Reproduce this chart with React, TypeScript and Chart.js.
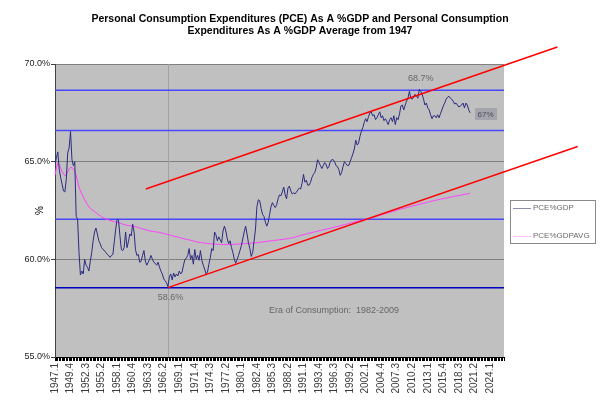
import { useEffect, useRef } from 'react';
import { Chart, registerables } from 'chart.js';
import type { Plugin } from 'chart.js';

Chart.register(...registerables);

// quarterly axis, 1947.1 .. 2026.3, labelled every 11 quarters
const FIRST_YEAR = 1947;
const AXIS_QUARTERS = 319;
const LABEL_EVERY = 11;
const quarterLabels = Array.from(
  { length: AXIS_QUARTERS },
  (_, i) => `${FIRST_YEAR + Math.floor(i / 4)}.${(i % 4) + 1}`
);

const Y_MIN = 55;
const Y_MAX = 70;
const Y_STEP = 5;

const titleLines = [
  'Personal Consumption Expenditures (PCE) As A %GDP and Personal Consumption',
  'Expenditures As A %GDP Average from 1947',
];

const seriesNames = ['PCE%GDP', 'PCE%GDPAVG'];

// PCE as % of GDP, one value per quarter from 1947.1
const pceGdp = [
  64.9, 65.2, 65.5, 64.6, 64.2, 63.85, 63.5, 63.45, 64.1, 65.45,
  65.7, 66.55, 65.1, 64.8, 65.0, 62.2, 62.05, 60.35, 59.2, 59.4,
  59.25, 60.0, 59.7, 59.6, 59.4, 59.9, 60.35, 60.95, 61.4, 61.6,
  61.3, 60.95, 60.8, 60.6, 60.5, 60.45, 60.35, 60.25, 60.2, 60.1,
  60.2, 60.25, 60.9, 61.55, 62.05, 62.0, 61.2, 60.5, 60.45, 60.6,
  61.4, 60.6, 60.9, 61.3, 61.2, 61.8, 61.4, 60.5, 60.2, 60.25,
  59.85, 59.9, 60.2, 60.45, 59.9, 59.7, 59.85, 60.0, 60.2, 60.0,
  59.85, 59.8, 59.7, 59.85, 59.6, 59.4, 59.25, 59.0, 58.9, 58.8,
  58.6, 59.1, 59.25, 58.95, 59.3, 59.1, 59.25, 59.15, 59.4, 59.25,
  59.35, 59.7, 60.0, 60.05, 60.2, 60.55, 60.0, 60.2, 59.75, 60.5,
  60.0, 60.2, 59.95, 60.45, 59.95, 59.7, 59.5, 59.25, 59.35, 59.75,
  60.1, 60.55, 60.45, 61.4, 61.25, 60.95, 61.15, 61.0, 60.85, 61.45,
  61.7, 61.45, 61.05, 60.8, 60.95, 60.6, 60.35, 60.0, 59.8, 60.0,
  60.2, 60.45, 60.7, 61.05, 61.4, 61.7, 61.3, 60.85, 60.55, 60.15,
  60.35, 60.95, 61.55, 62.7, 63.05, 63.0, 62.6, 62.3, 62.2, 61.9,
  61.7, 61.9, 62.3, 62.7, 62.9, 62.75, 62.65, 62.8, 63.1, 63.3,
  63.25, 63.45, 63.7, 63.3, 63.1, 63.65, 63.75, 63.5, 63.35, 63.4,
  63.35, 63.45, 63.55, 63.65, 63.6, 63.9, 64.35, 63.95, 64.05, 63.8,
  63.8, 63.95, 64.2, 64.35, 64.45, 64.7, 65.1, 64.95, 64.8, 64.65,
  64.8, 64.95, 64.85, 64.65, 64.75, 65.0, 65.1, 65.1, 65.0, 64.8,
  64.75, 64.6, 64.3, 64.45, 64.75, 65.0, 64.9, 64.8, 64.8, 65.0,
  65.2, 65.4, 65.65, 66.1, 65.85, 65.95, 66.3, 66.55, 66.75, 67.0,
  67.2, 67.05, 67.3, 67.5, 67.55, 67.35, 67.4, 67.15, 67.25, 67.4,
  67.55, 67.25, 67.35, 67.1, 67.2, 67.05, 66.9, 67.15, 67.25, 67.05,
  67.35, 66.9, 67.25, 67.15, 67.45, 67.85, 67.9, 67.65, 67.9, 68.1,
  68.25, 68.6, 68.25, 68.2, 68.3, 68.45, 68.35, 68.25, 68.7, 68.6,
  68.45, 68.2, 67.9, 68.0, 67.75, 67.65, 67.4, 67.2, 67.35, 67.35,
  67.25, 67.4, 67.25, 67.45, 67.65, 67.85, 68.0, 68.2, 68.3, 68.35,
  68.25, 68.2, 68.1, 67.95, 68.0, 67.9, 67.8, 67.85, 67.9, 68.0,
  67.75, 68.0, 67.9, 67.65, 67.5,
];

// average since 1947
const pceGdpAvg = [
  64.3, 64.7, 64.95, 64.85, 64.65, 64.5, 64.38, 64.28, 64.32, 64.48,
  64.62, 64.7, 64.7, 64.62, 64.52, 64.3, 64.0, 63.7, 63.5, 63.35,
  63.2, 63.05, 62.92, 62.8, 62.68, 62.6, 62.54, 62.49, 62.45, 62.4,
  62.33, 62.28, 62.23, 62.18, 62.14, 62.1, 62.07, 62.05, 62.02, 61.99,
  61.97, 61.95, 61.93, 61.91, 61.89, 61.87, 61.85, 61.83, 61.8, 61.78,
  61.76, 61.74, 61.73, 61.72, 61.71, 61.7, 61.69, 61.67, 61.65, 61.62,
  61.6, 61.58, 61.56, 61.54, 61.52, 61.5, 61.48, 61.46, 61.44, 61.43,
  61.42, 61.41, 61.4, 61.39, 61.38, 61.36, 61.34, 61.32, 61.3, 61.29,
  61.27, 61.25, 61.23, 61.21, 61.19, 61.17, 61.15, 61.14, 61.12, 61.1,
  61.08, 61.06, 61.04, 61.03, 61.01, 61.0, 60.98, 60.96, 60.94, 60.92,
  60.9, 60.89, 60.87, 60.86, 60.85, 60.84, 60.83, 60.82, 60.81, 60.8,
  60.8, 60.79, 60.79, 60.78, 60.78, 60.77, 60.77, 60.77, 60.76, 60.76,
  60.76, 60.76, 60.76, 60.76, 60.76, 60.76, 60.77, 60.77, 60.77, 60.78,
  60.78, 60.79, 60.79, 60.8, 60.8, 60.81, 60.81, 60.82, 60.82, 60.83,
  60.83, 60.84, 60.85, 60.85, 60.86, 60.87, 60.88, 60.89, 60.9, 60.91,
  60.92, 60.93, 60.94, 60.95, 60.95, 60.96, 60.97, 60.98, 60.99, 61.0,
  61.01, 61.02, 61.03, 61.04, 61.05, 61.06, 61.07, 61.09, 61.1, 61.12,
  61.14, 61.16, 61.18, 61.2, 61.22, 61.24, 61.26, 61.28, 61.3, 61.32,
  61.34, 61.35, 61.37, 61.39, 61.41, 61.42, 61.44, 61.46, 61.48, 61.49,
  61.51, 61.53, 61.54, 61.56, 61.58, 61.59, 61.61, 61.63, 61.65, 61.66,
  61.68, 61.7, 61.72, 61.74, 61.76, 61.78, 61.79, 61.81, 61.83, 61.85,
  61.87, 61.89, 61.91, 61.93, 61.95, 61.96, 61.98, 62.0, 62.02, 62.04,
  62.05, 62.07, 62.09, 62.11, 62.13, 62.15, 62.17, 62.19, 62.21, 62.23,
  62.25, 62.27, 62.3, 62.32, 62.34, 62.36, 62.38, 62.41, 62.43, 62.45,
  62.47, 62.49, 62.52, 62.54, 62.56, 62.58, 62.6, 62.61, 62.63, 62.65,
  62.67, 62.69, 62.71, 62.73, 62.75, 62.76, 62.78, 62.8, 62.82, 62.84,
  62.86, 62.87, 62.89, 62.91, 62.93, 62.95, 62.96, 62.98, 63.0, 63.02,
  63.03, 63.05, 63.06, 63.08, 63.09, 63.11, 63.12, 63.14, 63.15, 63.17,
  63.18, 63.2, 63.21, 63.23, 63.24, 63.25, 63.27, 63.28, 63.3, 63.31,
  63.33, 63.34, 63.35, 63.37, 63.38,
];

// horizontal reference levels (%)
const blueLevels = [68.65, 66.6, 62.05];
const lowLevel = 58.55;
const lowQuarter = 80; // 1967.1

// trend channel ends as [quarter index, %]
const upperTrend = [[64.3, 63.6], [355.8, 70.87]];
const lowerTrend = [[80, 58.55], [370.2, 65.78]];

// text notes as [text, quarter index, %]
const notes: [string, number, number][] = [
  ['68.7%', 259, 69.26],
  ['58.6%', 81.8, 58.03],
  ['Era of Consumption:  1982-2009', 197.6, 57.37],
];
const lastNote: [string, number, number] = ['67%', 304.9, 67.44];

const NAVY = '#2b2b80';
const PINK = '#ff3cff';

const overlay: Plugin<'line'> = {
  id: 'overlay',
  beforeDraw(chart) {
    const { ctx, chartArea: a } = chart;
    ctx.save();
    ctx.fillStyle = '#ffffff';
    ctx.fillRect(0, 0, chart.width, chart.height);
    ctx.fillStyle = '#c0c0c0';
    ctx.fillRect(a.left, a.top, a.right - a.left, a.bottom - a.top);
    ctx.restore();
  },
  beforeDatasetsDraw(chart) {
    const { ctx, chartArea: a } = chart;
    const x = chart.scales.x;
    const y = chart.scales.y;
    ctx.save();
    const vx = Math.round(x.getPixelForValue(lowQuarter)) + 0.5;
    ctx.strokeStyle = '#a2a2a2';
    ctx.lineWidth = 1;
    ctx.beginPath();
    ctx.moveTo(vx, a.top);
    ctx.lineTo(vx, a.bottom);
    ctx.stroke();

    ctx.lineWidth = 1.5;
    ctx.strokeStyle = '#4848ff';
    blueLevels.forEach((v) => {
      const py = y.getPixelForValue(v);
      ctx.beginPath();
      ctx.moveTo(a.left, py);
      ctx.lineTo(a.right, py);
      ctx.stroke();
    });
    ctx.strokeStyle = '#0000c0';
    const ly = y.getPixelForValue(lowLevel);
    ctx.beginPath();
    ctx.moveTo(a.left, ly);
    ctx.lineTo(a.right, ly);
    ctx.stroke();
    ctx.restore();
  },
  afterDatasetsDraw(chart) {
    const { ctx } = chart;
    const x = chart.scales.x;
    const y = chart.scales.y;
    ctx.save();
    ctx.strokeStyle = '#ff0000';
    ctx.lineWidth = 1.5;
    [upperTrend, lowerTrend].forEach((seg) => {
      ctx.beginPath();
      ctx.moveTo(x.getPixelForValue(seg[0][0]), y.getPixelForValue(seg[0][1]));
      ctx.lineTo(x.getPixelForValue(seg[1][0]), y.getPixelForValue(seg[1][1]));
      ctx.stroke();
    });
    ctx.restore();
  },
  afterDraw(chart) {
    const { ctx, chartArea: a } = chart;
    const x = chart.scales.x;
    const y = chart.scales.y;
    ctx.save();
    ctx.textAlign = 'center';
    ctx.textBaseline = 'middle';
    ctx.font = '9px "Liberation Sans", Arial, sans-serif';
    ctx.fillStyle = '#666666';
    notes.forEach(([t, q, v]) => {
      ctx.fillText(t, x.getPixelForValue(q), y.getPixelForValue(v));
    });

    // boxed note at the end of the series
    const bx = x.getPixelForValue(lastNote[1]);
    const by = y.getPixelForValue(lastNote[2]);
    ctx.fillStyle = '#a4a4ac';
    ctx.fillRect(Math.round(bx - 11), Math.round(by - 6), 22, 12);
    ctx.font = '8px "Liberation Sans", Arial, sans-serif';
    ctx.fillStyle = '#4a4a5a';
    ctx.fillText(lastNote[0], bx, by + 0.5);

    // legend
    const lx = Math.round(a.right) + 6;
    const lt = 200;
    ctx.fillStyle = '#ffffff';
    ctx.fillRect(lx, lt, 85, 43);
    ctx.strokeStyle = '#8a8a8a';
    ctx.lineWidth = 1;
    ctx.strokeRect(lx + 0.5, lt + 0.5, 85, 43);
    ctx.textAlign = 'left';
    chart.data.datasets.forEach((ds, i) => {
      const iy = lt + 8 + i * 28;
      ctx.strokeStyle = i === 0 ? '#8c8cae' : '#ffc4ff';
      ctx.beginPath();
      ctx.moveTo(lx + 3, iy + 0.5);
      ctx.lineTo(lx + 21, iy + 0.5);
      ctx.stroke();
      ctx.fillStyle = '#6a6a6a';
      ctx.fillText(String(ds.label), lx + 23, iy);
    });
    ctx.restore();
  },
};

export default function App() {
  const canvasRef = useRef<HTMLCanvasElement>(null);
  const chartRef = useRef<Chart | null>(null);

  useEffect(() => {
    document.body.style.margin = '0';
    if (!canvasRef.current) return;
    if (chartRef.current) chartRef.current.destroy();

    Chart.defaults.font.family = '"Liberation Sans", Arial, sans-serif';

    chartRef.current = new Chart(canvasRef.current, {
      type: 'line',
      data: {
        labels: quarterLabels,
        datasets: [
          {
            label: seriesNames[0],
            data: pceGdp,
            borderColor: NAVY,
            borderWidth: 1,
            pointRadius: 0,
            tension: 0,
          },
          {
            label: seriesNames[1],
            data: pceGdpAvg,
            borderColor: PINK,
            borderWidth: 1,
            pointRadius: 0,
            tension: 0,
          },
        ],
      },
      options: {
        animation: false,
        responsive: true,
        maintainAspectRatio: false,
        events: [],
        layout: { padding: 0 },
        plugins: {
          legend: { display: false },
          tooltip: { enabled: false },
          title: {
            display: true,
            text: titleLines,
            color: '#000',
            font: { size: 10.5, weight: 'bold', lineHeight: '12px' },
            padding: { top: 12.75, bottom: 27.25 },
          },
        },
        scales: {
          x: {
            type: 'category',
            offset: false,
            grid: {
              display: true,
              drawOnChartArea: false,
              offset: false,
              tickLength: 4,
              tickColor: '#000',
            },
            border: { color: '#000' },
            ticks: {
              autoSkip: false,
              minRotation: 90,
              maxRotation: 90,
              padding: 2,
              color: '#3a3a3a',
              font: { size: 10 },
              callback: (_v, i) => (i % LABEL_EVERY === 0 ? quarterLabels[i] : ''),
            },
            afterFit: (s) => {
              s.height = 51;
            },
          },
          y: {
            min: Y_MIN,
            max: Y_MAX,
            ticks: {
              stepSize: Y_STEP,
              padding: 1,
              color: '#222',
              font: { size: 9 },
              callback: (v) => Number(v).toFixed(1) + '%',
            },
            grid: {
              color: (c) => (c.tick && c.tick.value === Y_MIN ? 'rgba(0,0,0,0)' : '#808080'),
              tickLength: 4,
              tickColor: '#404040',
            },
            border: { color: '#404040' },
            title: {
              display: true,
              text: '%',
              color: '#000',
              font: { size: 10, lineHeight: '12px' },
              padding: { top: 34, bottom: 0 },
            },
            afterFit: (s) => {
              s.width = 55;
            },
          },
          // empty right-hand strip that holds the legend
          legendSpace: {
            type: 'linear',
            position: 'right',
            display: true,
            grid: { display: false },
            border: { display: false },
            ticks: { display: false },
            afterFit: (s) => {
              s.width = 96;
            },
          },
        },
      },
      plugins: [overlay],
    });

    return () => {
      if (chartRef.current) {
        chartRef.current.destroy();
        chartRef.current = null;
      }
    };
  }, []);

  return (
    <div style={{ width: 600, height: 408, position: 'relative' }}>
      <canvas ref={canvasRef} />
    </div>
  );
}
